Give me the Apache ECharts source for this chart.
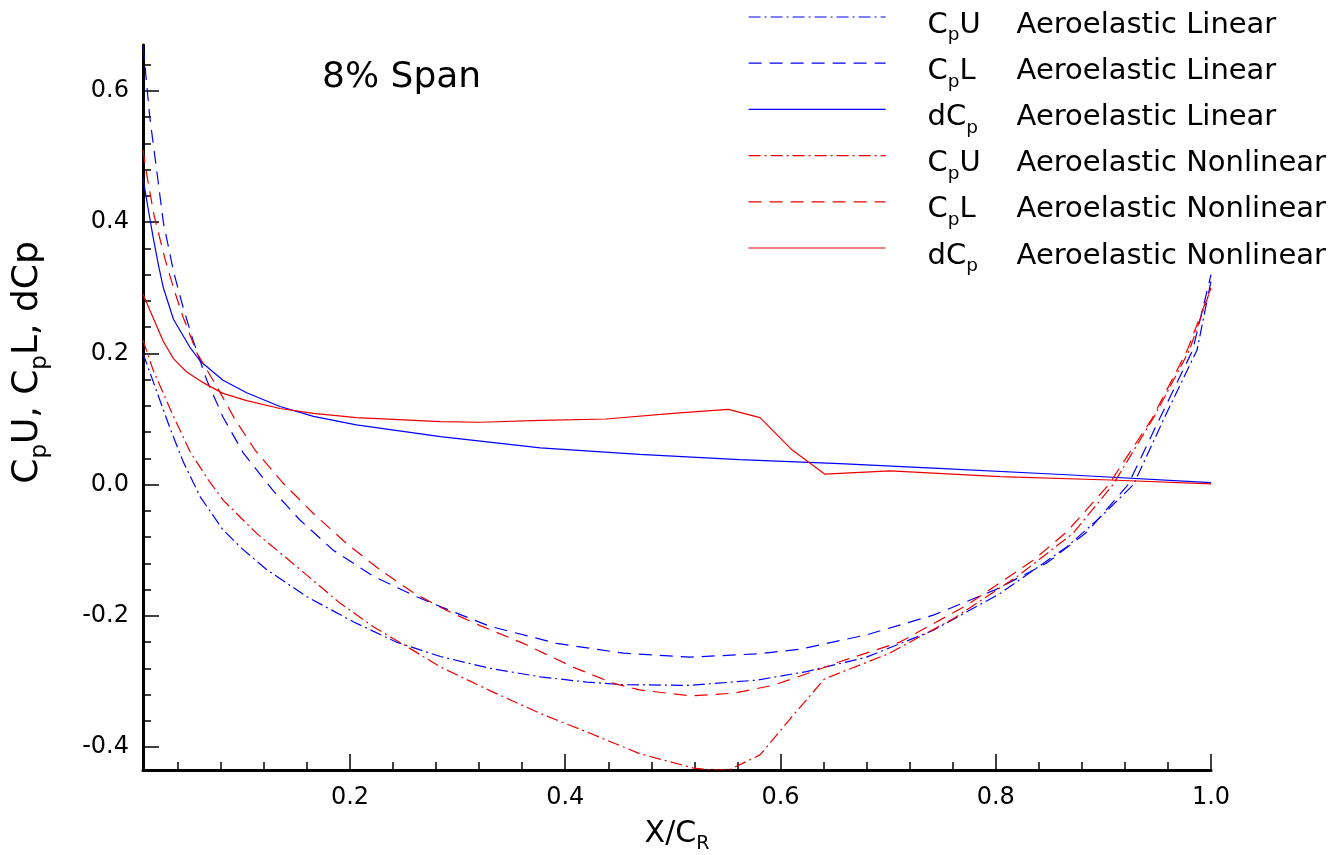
<!DOCTYPE html>
<html><head><meta charset="utf-8">
<script src="https://cdn.jsdelivr.net/npm/echarts@6/dist/echarts.min.js"></script>
<style>html,body{margin:0;padding:0;background:#fff}#c{width:1331px;height:855px}</style>
</head><body><div id="c"></div>
<script>
const xMajorTicks = [0.2, 0.4, 0.6, 0.8, 1.0];
const xMinorTicks = [0.04,0.08,0.12,0.16,0.24,0.28,0.32,0.36,0.44,0.48,0.52,0.56,0.64,0.68,0.72,0.76,0.84,0.88,0.92,0.96];
const yMajorTicks = [-0.4, -0.2, 0, 0.2, 0.4, 0.6];
const yMinorTicks = [-0.36,-0.32,-0.28,-0.24,-0.16,-0.12,-0.08,-0.04,0.04,0.08,0.12,0.16,0.24,0.28,0.32,0.36,0.44,0.48,0.52,0.56,0.64];

const cpuLinear = [[0.0077,0.200],[0.020,0.144],[0.033,0.085],[0.045,0.035],[0.061,-0.019],[0.082,-0.069],[0.100,-0.098],[0.123,-0.130],[0.160,-0.171],[0.203,-0.209],[0.243,-0.240],[0.284,-0.262],[0.330,-0.280],[0.377,-0.293],[0.420,-0.301],[0.454,-0.305],[0.516,-0.306],[0.578,-0.298],[0.624,-0.285],[0.680,-0.263],[0.742,-0.222],[0.804,-0.166],[0.866,-0.095],[0.897,-0.050],[0.928,0.000],[0.957,0.103],[0.987,0.205],[1.000,0.310]];
const cplLinear = [[0.0077,0.668],[0.0095,0.640],[0.0117,0.600],[0.014,0.560],[0.0204,0.479],[0.0266,0.400],[0.036,0.325],[0.045,0.270],[0.054,0.221],[0.067,0.159],[0.082,0.103],[0.101,0.048],[0.129,-0.010],[0.1535,-0.054],[0.1845,-0.100],[0.222,-0.140],[0.262,-0.171],[0.284,-0.186],[0.330,-0.216],[0.392,-0.242],[0.454,-0.257],[0.516,-0.263],[0.578,-0.258],[0.618,-0.251],[0.680,-0.229],[0.742,-0.199],[0.800,-0.160],[0.847,-0.120],[0.885,-0.072],[0.923,0.000],[0.953,0.103],[0.983,0.205],[1.000,0.320]];
const dcpLinear = [[0.0077,0.467],[0.012,0.425],[0.017,0.378],[0.022,0.335],[0.0266,0.300],[0.036,0.252],[0.051,0.210],[0.061,0.188],[0.082,0.159],[0.104,0.140],[0.135,0.119],[0.166,0.104],[0.206,0.091],[0.284,0.073],[0.377,0.056],[0.469,0.046],[0.562,0.038],[0.655,0.032],[0.742,0.025],[0.866,0.015],[1.000,0.003]];
const cpuNonlinear = [[0.0077,0.220],[0.017,0.175],[0.0266,0.139],[0.036,0.104],[0.0515,0.050],[0.068,0.008],[0.0823,-0.024],[0.113,-0.074],[0.1505,-0.125],[0.191,-0.181],[0.222,-0.217],[0.253,-0.247],[0.284,-0.278],[0.330,-0.314],[0.377,-0.349],[0.423,-0.379],[0.469,-0.410],[0.519,-0.432],[0.535,-0.435],[0.552,-0.435],[0.581,-0.412],[0.610,-0.355],[0.641,-0.296],[0.700,-0.258],[0.760,-0.205],[0.820,-0.140],[0.872,-0.074],[0.909,0.000],[0.947,0.103],[0.980,0.205],[1.000,0.300]];
const cplNonlinear = [[0.0077,0.510],[0.011,0.474],[0.018,0.410],[0.028,0.345],[0.036,0.300],[0.045,0.255],[0.058,0.200],[0.076,0.150],[0.093,0.100],[0.112,0.052],[0.138,0.002],[0.166,-0.044],[0.197,-0.090],[0.228,-0.130],[0.259,-0.165],[0.290,-0.192],[0.321,-0.215],[0.361,-0.242],[0.407,-0.278],[0.445,-0.303],[0.469,-0.313],[0.516,-0.322],[0.556,-0.318],[0.593,-0.306],[0.625,-0.288],[0.655,-0.270],[0.711,-0.240],[0.773,-0.184],[0.835,-0.115],[0.866,-0.072],[0.905,0.000],[0.945,0.100],[0.978,0.205],[1.000,0.300]];
const dcpNonlinear = [[0.0077,0.290],[0.018,0.251],[0.0266,0.218],[0.036,0.192],[0.048,0.172],[0.064,0.155],[0.082,0.139],[0.104,0.128],[0.135,0.116],[0.166,0.1085],[0.206,0.102],[0.284,0.096],[0.321,0.095],[0.377,0.098],[0.438,0.100],[0.500,0.1085],[0.5515,0.1146],[0.581,0.102],[0.610,0.054],[0.641,0.016],[0.702,0.021],[0.804,0.012],[0.906,0.007],[1.000,0.001]];

const seriesNames = ['CpU Aeroelastic Linear','CpL Aeroelastic Linear','dCp Aeroelastic Linear','CpU Aeroelastic Nonlinear','CpL Aeroelastic Nonlinear','dCp Aeroelastic Nonlinear'];
const legendLead = [['C','p','U'],['C','p','L'],['dC','p',''],['C','p','U'],['C','p','L'],['dC','p','']];
const legendTail = ['Aeroelastic Linear','Aeroelastic Linear','Aeroelastic Linear','Aeroelastic Nonlinear','Aeroelastic Nonlinear','Aeroelastic Nonlinear'];
const seriesData = [cpuLinear, cplLinear, dcpLinear, cpuNonlinear, cplNonlinear, dcpNonlinear];
const seriesColors = ['#0000ff','#0000ff','#0000ff','#ee0000','#ee0000','#ee0000'];
const DASHDOT = [12, 4, 2, 4], DASH = [13, 8];
const seriesDash = [DASHDOT, DASH, 'solid', DASHDOT, DASH, 'solid'];

const FONT = 'DejaVu Sans';
const LF = 29, LS = 18.5;
const cv = document.createElement('canvas').getContext('2d');
function tw(t, s) { cv.font = s + 'px "' + FONT + '"'; return cv.measureText(t).width; }

const rich = {
  a: {fontSize: LF, fontFamily: FONT, color: '#000', lineHeight: 30},
  s: {fontSize: LS, fontFamily: FONT, color: '#000', lineHeight: 18, padding: [21, 0, 0, 0]},
  b: {fontSize: LF, fontFamily: FONT, color: '#000', lineHeight: 30}
};
legendLead.forEach((p, i) => {
  const w = tw(p[0], LF) + tw(p[1], LS) + (p[2] ? tw(p[2], LF) : 0);
  rich['w' + i] = {fontSize: LF, fontFamily: FONT, lineHeight: 30, width: Math.max(1, 89 - w)};
});

const chart = echarts.init(document.getElementById('c'), null, {renderer: 'canvas'});
const option = {
  backgroundColor: '#fff',
  animation: false,
  title: {
    text: '8% Span', left: 322, top: 60, padding: 0,
    textStyle: {fontFamily: FONT, fontSize: 36, fontWeight: 'normal', color: '#000'}
  },
  legend: {
    orient: 'vertical', left: 748, top: 5, padding: 0,
    itemWidth: 137, itemHeight: 14, itemGap: 6.2,
    selectedMode: false,
    lineStyle: {width: 1.2},
    itemStyle: {opacity: 0, borderWidth: 0},
    data: seriesNames.map((n, i) => ({
      name: n,
      lineStyle: {type: seriesDash[i], width: 1.2}
    })),
    formatter: function (name) {
      const i = seriesNames.indexOf(name);
      const p = legendLead[i];
      return '{a|' + p[0] + '}{s|' + p[1] + '}' + (p[2] ? '{a|' + p[2] + '}' : '') + '{w' + i + '| }{b|' + legendTail[i] + '}';
    },
    textStyle: {padding: [16, 0, 0, 37], rich: rich, fontSize: LF, fontFamily: FONT, color: '#000'}
  },
  grid: {left: 143, right: 120, top: 45, bottom: 85, containLabel: false, outerBoundsMode: 'none'},
  xAxis: [{
    type: 'value', min: 0.0077, max: 1.0, position: 'bottom',
    name: '{a|X/C}{s|R}', nameLocation: 'middle', nameGap: 48,
    nameTextStyle: {rich: {
      a: {fontSize: 30, fontFamily: FONT, color: '#000', lineHeight: 32},
      s: {fontSize: 19, fontFamily: FONT, color: '#000', lineHeight: 19, padding: [20, 0, 0, 0]}
    }},
    axisLine: {show: true, onZero: false, lineStyle: {color: '#000', width: 3}},
    axisTick: {show: true, inside: true, length: 16, customValues: xMajorTicks, lineStyle: {color: '#000', width: 1.5}},
    axisLabel: {show: true, customValues: xMajorTicks, margin: 16, formatter: v => v.toFixed(1),
      fontSize: 24, fontFamily: FONT, color: '#000'},
    splitLine: {show: false}
  }, {
    type: 'value', min: 0.0077, max: 1.0, position: 'bottom',
    axisLine: {show: false, onZero: false},
    axisTick: {show: true, inside: true, length: 8, customValues: xMinorTicks, lineStyle: {color: '#000', width: 1.5}},
    axisLabel: {show: false},
    splitLine: {show: false}
  }],
  yAxis: [{
    type: 'value', min: -0.435, max: 0.67, position: 'left',
    name: '{a|C}{s|p}{a|U, C}{s|p}{a|L, dCp}', nameLocation: 'middle', nameGap: 96, nameRotate: 90,
    nameTextStyle: {padding: [0, 0, 0, 90], rich: {
      a: {fontSize: 36, fontFamily: FONT, color: '#000', lineHeight: 38},
      s: {fontSize: 23, fontFamily: FONT, color: '#000', lineHeight: 23, padding: [24, 0, 0, 0]}
    }},
    axisLine: {show: true, onZero: false, lineStyle: {color: '#000', width: 3}},
    axisTick: {show: true, inside: true, length: 16, customValues: yMajorTicks, lineStyle: {color: '#000', width: 1.5}},
    axisLabel: {show: true, customValues: yMajorTicks, margin: 14, formatter: v => v.toFixed(1),
      fontSize: 24, fontFamily: FONT, color: '#000'},
    splitLine: {show: false}
  }, {
    type: 'value', min: -0.435, max: 0.67, position: 'left',
    axisLine: {show: false, onZero: false},
    axisTick: {show: true, inside: true, length: 8, customValues: yMinorTicks, lineStyle: {color: '#000', width: 1.5}},
    axisLabel: {show: false},
    splitLine: {show: false}
  }],
  series: seriesNames.map((n, i) => ({
    name: n, type: 'line', xAxisIndex: 0, yAxisIndex: 0,
    data: seriesData[i], symbol: 'none', showSymbol: false, smooth: false, clip: true,
    lineStyle: {color: seriesColors[i], width: 1.2, type: seriesDash[i]},
    itemStyle: {color: seriesColors[i]},
    emphasis: {disabled: true}
  }))
};
chart.setOption(option);
</script></body></html>
